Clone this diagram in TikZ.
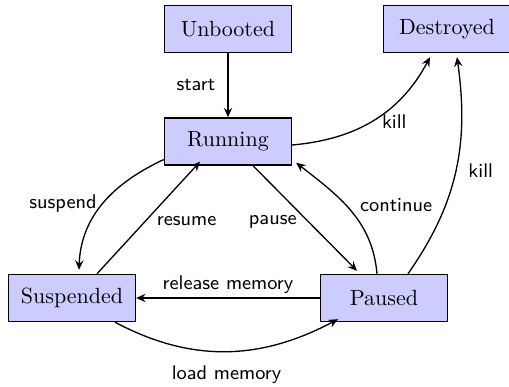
\documentclass[tikz,border=0pt]{standalone}
\usetikzlibrary{arrows.meta,calc}
\begin{document}
\begin{tikzpicture}[x=0.4545pt,y=-0.4545pt,
  state/.style={draw, semithick, fill=blue!20, minimum width=57.7pt, minimum height=21.4pt, inner sep=0pt},
  lbl/.style={font=\sffamily\small, inner sep=1.5pt},
  arr/.style={-{Stealth[length=4.3pt,width=3.8pt,inset=1.5pt]}, semithick}]
\useasboundingbox (0,0) rectangle (509,387);
\node[state] (U) at (228,29) {Unbooted};
\node[state] (D) at (447,29) {Destroyed};
\node[state] (R) at (228,141.5) {Running};
\node[state] (S) at (72,298) {Suspended};
\node[state] (P) at (384,298) {Paused};
% start
\draw[arr] (U) -- node[lbl, anchor=east, xshift=-4pt] {start} (R);
% kill from Running
\draw[arr] ($(R.east)+(0,3.5)$) to[out=5,in=-118]
  node[lbl, pos=0.6, anchor=north west, xshift=-4pt] {kill} ($(D.south)+(-17,4)$);
% kill from Paused
\draw[arr] ($(P.north)+(24,0)$) to[out=55,in=-82]
  node[lbl, pos=0.5, anchor=west, xshift=4pt] {kill} ($(D.south)+(10,4)$);
% suspend
\draw[arr] ($(R.west)+(0,18)$) to[out=205,in=88]
  node[lbl, pos=0.51, anchor=east, xshift=-1pt] {suspend} ($(S.north)+(7,-4)$);
% resume
\draw[arr] ($(S.north)+(25,0)$) --
  node[lbl, pos=0.5, anchor=north west, xshift=2pt, yshift=2.2pt] {resume} ($(R.south)+(-28,-4)$);
% pause
\draw[arr] ($(R.south)+(25,0)$) --
  node[lbl, pos=0.5, anchor=north east, xshift=-2pt, yshift=3pt] {pause} ($(P.north)+(-27,-3)$);
% continue
\draw[arr] ($(P.north)+(-7,0)$) to[out=95,in=-38]
  node[lbl, pos=0.55, anchor=west, xshift=4.5pt] {continue} ($(R.south east)+(4,-3)$);
% release memory
\draw[arr] (P.west) -- node[lbl, above] {release memory} (S.east);
% load memory
\draw[arr] ($(S.south)+(43,0)$) to[out=-28,in=-152]
  node[lbl, below, yshift=-4.5pt] {load memory} ($(P.south)+(-46,-3)$);
\end{tikzpicture}
\end{document}
